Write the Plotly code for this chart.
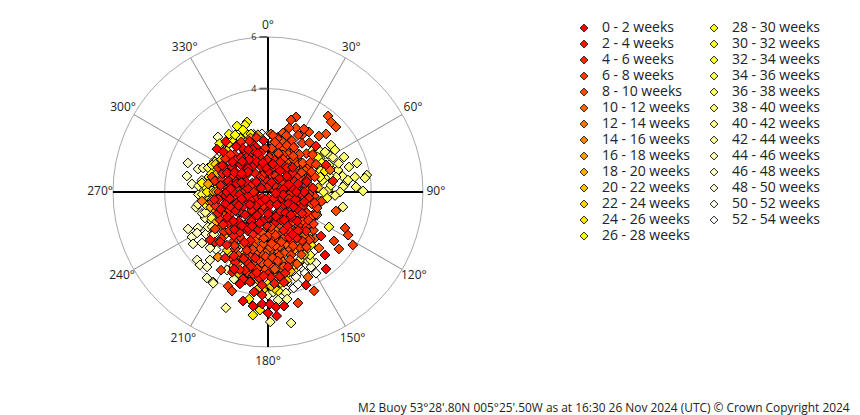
import plotly.graph_objects as go

week_labels = [f"{i*2} - {i*2+2} weeks" for i in range(27)]

# direction (deg) and radial value, one pair of lists per two-week band
dir_00 = [180,176,187.5,192.9,183,179,176,172,143,137.9,157.8,203.8,197,320,310,312,300,330,345,355,45,75,90,105,120,135,150,165,180,195,210,225,240,255,270,285,300,315,330,345,0,40,80,130,170,220,260,310,
          10,30,50,70,85,100,120,140,155,190,205,215,235,250,265,280,295,320,340,355,20,100,200,300,145,150,208,222,238,250,265,280,295,310,325,340,
          240,255,270,285,300,315,330,225,210,195,260,275,245,230,218,205,290,305,320,335,350,345,120,105,90,75,135,150,162,180]
val_00 = [4.68,4.81,4.45,4.33,4.34,4.34,4.46,4.46,3.73,3.29,3.89,3.26,3.72,2.55,2.58,2.33,2.05,1.95,1.8,2.0,1.35,1.2,1.4,1.1,1.3,1.6,1.5,1.2,1.0,1.5,1.3,1.6,1.1,1.7,1.35,1.6,1.2,1.5,1.15,1.0,0.8,0.7,0.6,0.8,0.5,0.7,0.8,0.6,
          1.1,0.95,0.95,0.85,1.0,0.6,0.9,1.05,1.2,1.15,1.0,0.45,0.85,1.3,1.1,0.8,0.95,1.2,1.25,0.95,0.4,0.3,0.3,0.3,0.6,1.9,1.7,1.95,1.85,1.95,1.65,1.45,1.75,1.8,2.15,1.75,
          1.45,1.05,1.6,1.25,1.5,1.1,1.45,1.25,1.6,1.25,1.5,1.45,1.25,1.75,1.65,1.45,1.1,1.25,1.55,1.8,1.15,1.55,1.15,1.45,1.1,1.55,1.25,1.25,1.0,0.85]
dir_02 = [226.7,230.4,223.8,213,196.4,196.7,191,183.7,188,183.3,194.6,191.3,180,129.7,135.7,65,80.4,46.2,340,350,30,68,85,98,112,128,142,155,200,215,232,248,262,278,292,305,322,338,358,18,55,95,115,150,200,240,285,325,355,
          22,38,52,78,92,108,122,137,147,158,172,182,203,212,222,232,245,258,272,288,302,318,332,348,8,45,90,140,180,228,270,320,0,148,205,218,234,247,262,200,205,193,208,218,200,190,186,196,204,
          178,183,172,176,168,165,188,170]
val_02 = [2.82,2.91,2.68,3.05,3.15,2.83,2.6,3.61,3.91,3.99,3.52,3.55,3.17,2.67,2.11,2.48,2.55,2.57,2.1,1.55,1.2,1.1,1.75,1.6,1.45,1.1,1.9,1.95,2.0,1.9,1.95,1.55,1.95,1.85,1.9,1.7,1.7,1.4,1.25,1.0,0.9,0.85,0.6,0.9,0.85,0.55,1.0,0.9,0.4,
          1.25,1.2,1.2,1.45,1.25,0.85,1.55,1.35,1.2,1.6,0.95,1.3,1.35,1.6,0.95,1.3,0.75,1.3,0.9,1.3,1.5,1.3,1.6,1.3,0.9,0.35,0.5,0.35,0.75,0.3,0.55,0.35,0.2,2.1,2.15,2.15,2.15,2.1,2.1,2.75,3.0,2.95,2.8,2.6,3.2,3.25,3.35,3.5,3.4,
          3.3,3.25,3.3,3.55,3.2,3.0,3.15,3.55]
dir_04 = [222,200,215,228,240,255,268,282,296,308,318,332,348,2,12,42,72,88,103,118,132,145,205,218,235,250,275,295,312,335,10,65,110,160,190,280,
          62,78,93,108,125,138,152,210,225,240,255,270,285,300,315,328,342,356,25,70,125,175,215,255,300,345,212,225,
          235,250,265,280,300,315,330,345,225,212,200,245,260,290,220,240,200,150,120,95,75,60,35,5,350]
val_04 = [1.62,2.4,2.3,2.3,2.15,2.1,1.7,2.1,2.15,2.1,1.95,2.2,2.15,1.35,1.25,1.05,1.6,1.05,1.85,1.7,2.0,2.3,1.65,1.2,1.4,1.0,1.2,1.45,1.05,0.7,0.6,0.5,0.35,0.9,0.6,0.5,
          1.25,0.95,1.6,1.3,1.9,1.75,1.65,1.1,1.8,1.65,1.45,1.9,1.85,1.85,1.75,1.75,1.95,1.7,0.7,0.25,0.5,0.25,0.85,0.5,0.7,0.6,2.45,2.55,
          2.0,1.75,1.8,1.7,1.95,2.05,1.85,1.7,2.1,2.05,1.75,1.65,0.6,0.7,0.95,0.9,0.6,1.1,0.7,0.65,0.75,0.7,0.45,0.95,0.75]
dir_06 = [20.5,17.7,29.7,18.2,164.9,155,115,118.3,122,126.6,128.8,211,203,200,10,25,35,45,55,22,40,60,72,100,115,130,150,160,170,182,195,210,208.6,235,260,285,
          5,18,28,40,50,65,30,38,12,22,95,108,125,140,155,165,176,188,200,180,172,162,152,145,188,195,
          5,15,25,35,60,8,175,180,170,185,176]
val_06 = [3.1,2.93,2.81,2.61,4.45,4.22,3.29,3.52,3.87,3.18,3.52,3.53,3.96,4.08,2.1,2.2,2.3,2.1,2.0,1.95,1.9,2.15,1.9,2.1,2.05,2.3,2.5,2.6,2.5,2.5,2.3,2.55,2.91,2.5,2.2,2.25,
          2.2,2.3,2.5,2.5,2.25,1.85,2.0,1.6,1.85,1.55,1.8,2.0,2.15,2.45,2.3,2.0,2.55,2.65,2.65,2.75,2.7,2.75,2.75,2.6,3.0,3.25,
          1.7,1.55,1.4,1.7,1.5,1.95,1.35,1.7,1.7,1.8,2.0]
dir_08 = [38.3,42,46.3,45,42.3,14.3,23.6,30.8,34.3,105.6,158,164,170,178,186,192,205,15,30,48,65,80,95,138,175,220,245,300,
          55,45,33,25,15,168,178,185,197,160,140,155,130,118,105,190,182,175,168,
          20,50,5,28,58,165,195,162,191,188,188,172,
          60,70,85,100,115,130,145,160,175,185,195,170,182,155,140,125,165,175,185,195,10,22,35,50,65]
val_08 = [3.75,3.65,3.64,3.18,2.93,2.36,2.7,2.57,2.81,2.73,3.0,2.9,3.0,2.8,2.9,2.7,2.7,1.75,2.0,1.7,1.4,1.6,1.3,2.45,1.55,2.1,1.85,1.65,
          1.7,1.55,1.9,2.0,2.05,2.15,2.15,2.45,2.45,2.4,1.85,2.05,1.75,1.95,1.75,2.85,3.0,3.0,2.95,
          1.8,1.75,1.45,1.65,1.9,1.75,1.95,1.9,2.4,1.6,2.2,2.1,
          1.65,1.75,1.45,1.4,1.2,1.45,1.45,1.35,1.8,2.0,2.15,1.05,1.1,1.75,1.55,1.4,2.45,2.6,2.75,2.6,1.35,1.15,1.05,1.1,1.05]
dir_10 = [3,10.3,70.5,165,172,178,185,190,200,150,140,134.4,137.7,154.8,122,112.6,120.7,33,52,6,25,75,160,182,215,
          15,32,48,178,165,193,170,182,193,160]
val_10 = [2.25,2.16,2.55,2.3,2.4,2.3,2.6,2.4,2.1,2.1,2.2,2.55,2.93,3.64,1.97,2.01,1.67,1.55,1.5,1.9,1.3,1.3,1.75,1.45,1.55,
          1.65,1.45,1.55,1.6,1.5,1.75,2.35,2.35,2.55,2.2]
dir_12 = [262.2,175,185,168,192,150,128,105,12,38,62,170,198,142]
val_12 = [2.58,3.3,3.3,2.75,3.15,2.35,1.55,1.55,1.6,1.45,1.75,1.9,2.55,1.7]
dir_14 = [266,246,217.6,175,183,160,195,172,145,125,205,240]
val_14 = [1.86,1.73,3.18,3.05,2.85,2.15,2.9,2.65,2.05,1.8,2.25,1.95]
dir_16 = [277.6,282.5,299,209.4,262,250,180,190,170,155,342,350]
val_16 = [2.34,1.78,1.91,2.44,2.2,2.15,3.15,3.35,3.1,2.45,2.2,2.25]
dir_18 = [240,225,255,290,186,176,164,194,203,295,270]
val_18 = [2.3,2.4,2.3,2.1,3.45,3.4,3.2,3.1,3.0,1.75,2.0]
dir_20 = [270,280,265,185,178,168,200,250,235,305,85]
val_20 = [2.1,1.95,1.95,3.7,3.65,3.5,3.35,2.05,2.45,2.2,1.95]
dir_22 = [183,176,190,195,172,150,135,205,215,298,315]
val_22 = [3.8,3.75,3.5,3.4,3.55,2.8,2.25,3.15,2.75,2.3,2.25]
dir_24 = [187,183.9,190,180,193,160,210,320,270,70]
val_24 = [4.8,4.58,4.21,3.55,3.4,3.0,2.85,2.42,2.36,2.35]
dir_26 = [326,332.6,325,326.6,277.8,284.3,276.8,146.6,260.2,299.5,295.7,288,280,178,195,185,170,150,120,340,330,320,315,343.3,341,338,343.7,334.8]
val_26 = [2.7,2.35,2.36,2.18,2.58,2.36,1.95,2.32,2.28,2.36,2.41,2.3,2.2,3.5,3.0,3.0,3.4,2.7,2.0,2.4,2.55,2.4,2.65,2.83,2.74,2.59,2.34,2.82]
dir_28 = [346,329,272,253.3,146,141,201,185,168,55,115,262]
val_28 = [2.3,2.5,2.15,2.02,2.45,2.64,2.55,3.7,3.3,2.35,2.1,2.35]
dir_30 = [148,140,300,270,258,174,190,52,100,162]
val_30 = [2.6,2.4,2.15,2.3,2.45,3.85,3.2,2.3,2.05,3.2]
dir_32 = [146.3,146.8,119.8,275,282,255,60,74,96]
val_32 = [2.93,2.68,2.72,2.45,2.25,2.25,2.35,2.1,2.3]
dir_34 = [292,268,78,68,90,148,155,245]
val_34 = [2.5,2.55,2.15,2.2,2.15,3.1,2.9,2.4]
dir_36 = [53.3,57.9,54.9,56.8,66,76.2,69.2,88,84,63]
val_36 = [3.04,3.06,2.7,2.4,2.58,2.27,2.07,2.32,2.45,2.25]
dir_38 = [65.3,72,72.8,72.6,80.2,80.3,81.8,86.7,89.4,86,81.5,77.6,90,75,68,93]
val_38 = [3.24,3.62,3.28,2.84,3.41,3.88,3.79,3.41,3.68,2.91,3.13,2.7,2.79,2.45,2.95,2.6]
dir_40 = [101.3,58,62,78,84,70,47,50,97,252,275,260]
val_40 = [2.96,2.75,2.85,2.95,3.0,2.6,2.35,2.55,2.2,2.55,2.7,2.75]
dir_42 = [179,170,200,174.7,169.9,177,169.9,211,243,247,238,232]
val_42 = [5.03,5.15,4.77,4.2,3.97,3.88,4.21,4.12,2.45,2.35,2.55,2.65]
dir_44 = [180,207.7,201.4,247.6,252,232.5,239.7,239.7,249.3,226,268,280,258,262]
val_44 = [3.99,3.41,3.62,2.64,2.68,2.73,2.38,2.69,2.19,3.12,2.7,2.6,2.85,2.5]
dir_46 = [289.9,281.2,276,288.2,290.3,245.2,242.8,239.4,240,235.9,235.3,232.3,226.2,223,219.1,220.5,215.4,211.4,214.6,317.7,170]
val_46 = [3.3,3.2,2.96,2.85,2.68,3.41,3.05,3.42,3.17,2.9,3.53,3.23,3.8,3.86,3.74,3.46,4.08,4.08,2.59,2.88,3.77]
dir_48 = [161.8,145.9,150.2,161.8,155,150,165,310,300,205,215,222]
val_48 = [2.85,3.32,3.35,3.46,2.95,3.05,3.05,2.45,2.4,2.95,3.0,3.0]
dir_50 = [149.4,163.6,155.4,162,158,168,152,143,195,305]
val_50 = [3.65,3.15,3.45,3.75,3.1,3.6,3.2,2.9,3.3,2.35]
dir_52 = [354,310,168,150,165,176,160,0,315]
val_52 = [2.26,2.55,3.3,2.95,3.85,2.6,3.35,2.2,2.6]

all_dirs = [dir_00,dir_02,dir_04,dir_06,dir_08,dir_10,dir_12,dir_14,dir_16,dir_18,dir_20,dir_22,dir_24,dir_26,
            dir_28,dir_30,dir_32,dir_34,dir_36,dir_38,dir_40,dir_42,dir_44,dir_46,dir_48,dir_50,dir_52]
all_vals = [val_00,val_02,val_04,val_06,val_08,val_10,val_12,val_14,val_16,val_18,val_20,val_22,val_24,val_26,
            val_28,val_30,val_32,val_34,val_36,val_38,val_40,val_42,val_44,val_46,val_48,val_50,val_52]
radial_max = 6
radial_ticks = [4, 6]
bearings = list(range(0, 360, 30))
bearing_label_r = [6.42,6.45,6.48,6.5,6.52,6.55,6.58,6.55,6.52,6.5,6.48,6.45]
footer = "M2 Buoy 53°28'.80N 005°25'.50W as at 16:30 26 Nov 2024 (UTC) © Crown Copyright 2024"

def band_colour(i):
    if i <= 13:
        return f"rgb(255,{round(255*i/13)},0)"
    return f"rgb(255,255,{round(255*(i-13)/13)})"

W, H = 860, 415
cx, cy, R6 = 268, 192, 155
axis_top = 6.6
R = R6 * axis_top / radial_max
FONT = "Open Sans, sans-serif"
TEXT = "#222"

fig = go.Figure()

def spokes(angles, colour, width):
    t, r = [], []
    for a in angles:
        t += [a, a, None]
        r += [0, radial_max, None]
    fig.add_trace(go.Scatterpolar(theta=t, r=r, mode="lines", line=dict(color=colour, width=width),
                                  hoverinfo="skip", showlegend=False))

spokes([a for a in bearings if a % 90], "#8c8c8c", 1)
spokes([a for a in bearings if a % 90 == 0], "black", 2)

fig.add_trace(go.Scatterpolar(theta=bearings, r=bearing_label_r, mode="text",
                              text=[f"{a}°" for a in bearings], textposition="middle center",
                              cliponaxis=False, hoverinfo="skip", showlegend=False,
                              textfont=dict(family=FONT, size=12, color=TEXT)))

# latest band drawn last
for i in reversed(range(27)):
    fig.add_trace(go.Scatterpolar(theta=all_dirs[i], r=all_vals[i], mode="markers", name=week_labels[i],
                                  showlegend=False,
                                  marker=dict(symbol="diamond", size=7.5, color=band_colour(i),
                                              line=dict(color="black", width=1))))

# key, laid out on its own hidden axes: column / row
ROWS = 14
for i, lab in enumerate(week_labels):
    col, row = (0, i) if i < ROWS else (1, i - ROWS)
    fig.add_trace(go.Scatter(x=[col], y=[row], mode="markers", name=lab, showlegend=False, cliponaxis=False,
                             xaxis="x", yaxis="y", hoverinfo="name",
                             marker=dict(symbol="diamond", size=6, color=band_colour(i),
                                         line=dict(color="#222", width=1))))
    fig.add_trace(go.Scatter(x=[col + 0.138], y=[row], mode="text", text=[lab], textposition="middle right",
                             showlegend=False, cliponaxis=False, xaxis="x", yaxis="y", hoverinfo="skip",
                             textfont=dict(family=FONT, size=14, color=TEXT)))

fig.update_layout(
    width=W, height=H, autosize=False,
    margin=dict(l=0, r=0, t=0, b=0),
    paper_bgcolor="white", plot_bgcolor="white",
    font=dict(family=FONT, size=12, color=TEXT),
    showlegend=False,
    polar=dict(
        domain=dict(x=[(cx - R) / W, (cx + R) / W], y=[1 - (cy + R) / H, 1 - (cy - R) / H]),
        bgcolor="white",
        angularaxis=dict(direction="clockwise", rotation=90, dtick=30, ticks="",
                         showline=False, showgrid=False, showticklabels=False),
        radialaxis=dict(range=[0, axis_top], angle=90, tickangle=90, side="counterclockwise",
                        tickvals=radial_ticks, ticktext=[str(v) for v in radial_ticks], ticks="outside", ticklen=8, tickwidth=2,
                        tickcolor="#666", showline=False, gridcolor="#aaa", gridwidth=1,
                        tickfont=dict(family=FONT, size=9, color=TEXT)),
    ),
    xaxis=dict(domain=[584 / W, 844 / W], range=[0, 2], visible=False, fixedrange=True),
    yaxis=dict(domain=[1 - 236 / H, 1 - 28 / H], range=[13, 0], visible=False, fixedrange=True),
    annotations=[dict(text=footer, xref="paper", yref="paper", x=852 / W, y=1 - 407 / H, xanchor="right",
                      yanchor="middle", showarrow=False, font=dict(family=FONT, size=11.9, color=TEXT))],
)

fig.write_html("out.html", config={"displayModeBar": False}, post_script="document.body.style.margin='0';")
